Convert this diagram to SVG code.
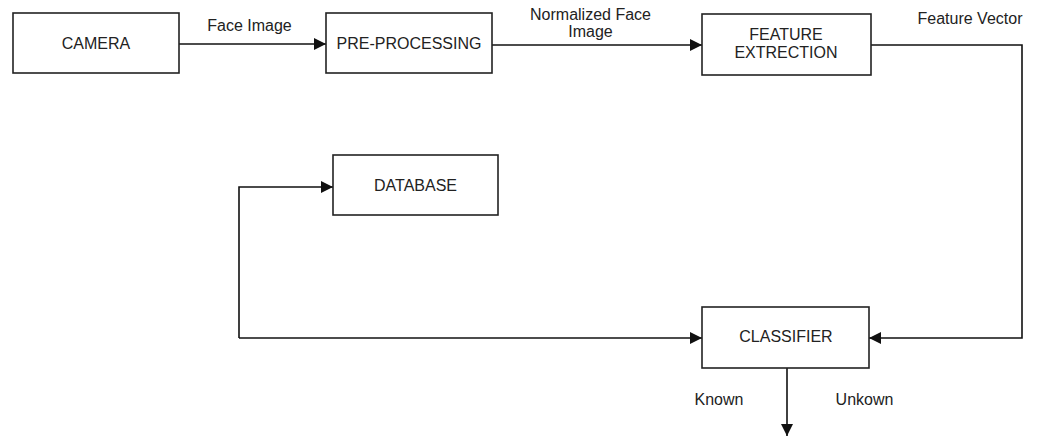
<svg xmlns="http://www.w3.org/2000/svg" width="1041" height="446" viewBox="0 0 1041 446">
  <style>
    .box { fill: #ffffff; stroke: #222222; stroke-width: 1.6; }
    .lbl { font-family: "Liberation Sans", Arial, sans-serif; font-size: 16px; fill: #222222; text-anchor: middle; }
    .wire { fill: none; stroke: #111111; stroke-width: 1.6; }
  </style>
  <defs>
    <marker id="arrow" viewBox="0 0 12 12" refX="12" refY="6" markerWidth="12" markerHeight="12" markerUnits="userSpaceOnUse" orient="auto">
      <path d="M0,0 L12,6 L0,12 z" fill="#111111"/>
    </marker>
  </defs>
  <rect width="1041" height="446" fill="#ffffff"/>

  <g id="connectors">
    <path class="wire" d="M179,44 H326" marker-end="url(#arrow)"/>
    <path class="wire" d="M492,45 H702" marker-end="url(#arrow)"/>
    <path class="wire" d="M871,45 H1022 V338 H869" marker-end="url(#arrow)"/>
    <path class="wire" d="M239,338 H702" marker-end="url(#arrow)"/>
    <path class="wire" d="M239,338 V187 H333" marker-end="url(#arrow)"/>
    <path class="wire" d="M787,368 V436" marker-end="url(#arrow)"/>
    <text class="lbl" x="249.5" y="31">Face Image</text>
    <text class="lbl" x="590.5" y="20">Normalized Face</text>
    <text class="lbl" x="590.5" y="37">Image</text>
    <text class="lbl" x="970" y="23.5">Feature Vector</text>
    <text class="lbl" x="719" y="405">Known</text>
    <text class="lbl" x="864.5" y="405">Unkown</text>
  </g>

  <g id="camera">
    <rect class="box" x="13" y="13" width="166" height="60"/>
    <text class="lbl" x="96" y="48.5">CAMERA</text>
  </g>
  <g id="pre-processing">
    <rect class="box" x="326" y="13" width="166" height="60"/>
    <text class="lbl" x="409" y="48.5">PRE-PROCESSING</text>
  </g>
  <g id="feature-extraction">
    <rect class="box" x="702" y="14" width="169" height="61"/>
    <text class="lbl" x="786" y="39.5">FEATURE</text>
    <text class="lbl" x="786" y="57.5">EXTRECTION</text>
  </g>
  <g id="database">
    <rect class="box" x="333" y="155" width="165" height="60"/>
    <text class="lbl" x="415.5" y="190.5">DATABASE</text>
  </g>
  <g id="classifier">
    <rect class="box" x="702" y="307" width="167" height="61"/>
    <text class="lbl" x="786" y="342">CLASSIFIER</text>
  </g>
</svg>
